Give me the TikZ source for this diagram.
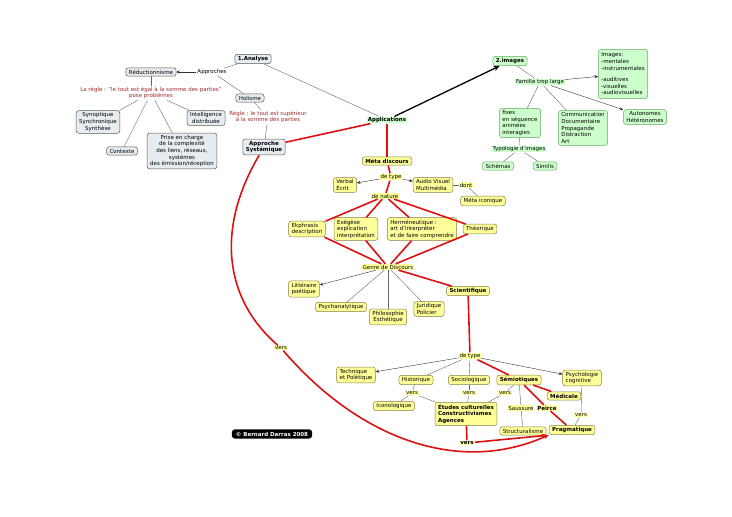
\documentclass[tikz,border=0pt]{standalone}
\usepackage{fontspec}
\setmainfont{DejaVu Sans}
\usepackage{xcolor}
\usetikzlibrary{arrows.meta}

\definecolor{boxgris}{HTML}{E6ECF0}
\definecolor{boxvert}{HTML}{CCFFCC}
\definecolor{boxjaune}{HTML}{FFFF99}
\definecolor{rougelien}{HTML}{DD1111}
\definecolor{regle}{HTML}{A02828}

\begin{document}
\begin{tikzpicture}[
        x=1pt, y=-1pt,
        >=Stealth,
        every node/.style={font=\fontsize{5.5}{6.6}\selectfont, align=center},
        gras/.style={font=\fontsize{5.5}{6.6}\selectfont\bfseries},
        gbox/.style={
            draw=black!65,
            rounded corners=2.5pt,
            line width=0.5pt,
            fill=boxgris,
            inner xsep=3pt,
            inner ysep=2pt
        },
        vbox/.style={gbox, fill=boxvert, draw=black!55!green!60},
        jbox/.style={gbox, fill=boxjaune, draw=black!55!yellow},
        lien/.style={fill=white, inner sep=1pt},
        lienj/.style={fill=boxjaune, inner sep=0.8pt},
        lienv/.style={fill=boxvert, inner sep=0.8pt},
        rtxt/.style={text=regle, inner sep=1pt},
        fin/.style={draw=black!60, line width=0.4pt},
        fleche/.style={fin, -{Stealth[length=3.5pt,width=3pt]}, draw=black!80},
        fort/.style={draw=rougelien, line width=1.6pt},
        fortfleche/.style={fort, -{Stealth[length=5pt,width=4.5pt]}},
        noir/.style={draw=black, line width=1.3pt, -{Stealth[length=6pt,width=5pt]}}
    ]
        \useasboundingbox (0,0) rectangle (732,517);

        % analyse
        \node[gbox, gras] (ana) at (253,59) {1.Analyse};
        \node[lien] (appr) at (212,72) {Approches};
        \node[gbox] (reduc) at (151,72) {Réductionnisme};
        \node[gbox] (holi) at (250,98) {Holisme};
        \node[rtxt] (regle1) at (151,93) {La règle : "le tout est égal à la somme des parties"\\pose problèmes};
        \node[rtxt] (regle2) at (268,117) {Règle : le tout est supérieur\\à la somme des parties};
        \node[gbox] (synop) at (98,122) {Synoptique\\Synchronique\\Synthèse};
        \node[gbox] (ctx) at (122,151) {Contexte};
        \node[gbox] (prise) at (182,151) {Prise en charge\\de la complexité\\des liens, réseaux,\\systèmes\\des émission/réception};
        \node[gbox] (intel) at (206,118) {Intelligence\\distribuée};
        \node[gbox, gras] (systemique) at (264,147) {Approche\\Systémique};
        \node[lienv, gras] (appli) at (387,120) {Applications};

        \draw[fin] (ana) -- (appr);
        \draw[fleche] (appr) -- (reduc);
        \draw[fin] (appr) -- (holi);
        \draw[fin] (ana) -- (appli);
        \draw[fin] (reduc) -- (regle1);
        \draw[fin] (regle1) -- (synop);
        \draw[fin] (regle1) -- (ctx);
        \draw[fin] (regle1) -- (prise);
        \draw[fin] (regle1) -- (intel);
        \draw[fin] (holi) -- (regle2);
        \draw[fin] (regle2) -- (systemique);

        % images
        \node[vbox, gras] (images2) at (510,61) {2.images};
        \node[lienv] (famille) at (540,82) {Famille trop large};
        \node[vbox, align=left, inner ysep=3.5pt] (imgbox) at (623,74) {Images:\\-mentales\\-instrumentales\\[5pt]-auditives\\-visuelles\\-audiovisuelles};
        \node[vbox] (auto) at (645,117) {Autonomes\\Hétéronomes};
        \node[vbox, align=left] (fixes) at (520,123) {fixes\\en séquence\\animées\\interagies};
        \node[vbox, align=left] (commu) at (583,128) {Communication\\Documentaire\\Propagande\\Distraction\\Art};
        \node[lienv] (typo) at (519,149) {Typologie d'images};
        \node[vbox] (schemas) at (498,166) {Schémas};
        \node[vbox] (similis) at (545,166) {Similis};

        \draw[noir] (appli) -- (images2);
        \draw[fin] (images2) -- (famille);
        \draw[fleche] (famille) -- (imgbox);
        \draw[fleche] (famille) -- (auto);
        \draw[fin] (famille) -- (fixes);
        \draw[fin] (famille) -- (commu);
        \draw[fin] (fixes) -- (typo);
        \draw[fin] (typo) -- (schemas);
        \draw[fin] (typo) -- (similis);

        % meta discours
        \node[jbox, gras] (meta) at (387,161) {Méta discours};
        \node[lienj] (detype1) at (391,177) {de type};
        \node[jbox, align=left] (verbal) at (345,185) {Verbal\\Écrit};
        \node[jbox, align=left] (audio) at (433,185) {Audio Visuel\\Multimédia};
        \node[lienj] (dont) at (466,185) {dont};
        \node[jbox] (metaico) at (483,201) {Méta iconique};
        \node[lienj] (denature) at (385,196) {de nature};
        \node[jbox, align=left] (ekph) at (307,229) {Ekphrasis\\description};
        \node[jbox, align=left] (exeg) at (356,229) {Exégèse\\explication\\interprétation};
        \node[jbox, align=left] (herm) at (422,229) {Herméneutique :\\art d'interpréter\\et de faire comprendre};
        \node[jbox] (theo) at (480,229) {Théorique};
        \node[lienj] (genre) at (388,267) {Genre de Discours};
        \node[jbox, align=left] (litt) at (304,289) {Littéraire\\poétique};
        \node[jbox] (psycha) at (341,307) {Psychanalytique};
        \node[jbox] (philo) at (388,317) {Philosophie\\Esthétique};
        \node[jbox, align=left] (jurid) at (429,309) {Juridique\\Policier};
        \node[jbox, gras] (scient) at (468,291) {Scientifique};

        \draw[fort] (appli) -- (systemique);
        \draw[fort] (appli) -- (meta);
        \draw[fort] (meta) -- (detype1);
        \draw[fleche] (detype1) -- (verbal);
        \draw[fleche] (detype1) -- (audio);
        \draw[fin] (audio) -- (dont);
        \draw[fin] (dont) -- (metaico);
        \draw[fort] (detype1) -- (denature);
        \foreach \n in {ekph,exeg,herm,theo} {
            \draw[fort] (denature) -- (\n);
            \draw[fort] (\n) -- (genre);
        }
        \draw[fleche] (genre) -- (litt);
        \draw[fin] (genre) -- (psycha);
        \draw[fin] (genre) -- (philo);
        \draw[fin] (genre) -- (jurid);
        \draw[fort] (genre) -- (scient);

        % scientifique
        \node[lienj] (detype2) at (470,356) {de type};
        \node[jbox, align=left] (techn) at (356,375) {Technique\\et Poïétique};
        \node[jbox] (histo) at (416,380) {Historique};
        \node[jbox] (socio) at (469,380) {Sociologique};
        \node[jbox, gras] (semio) at (519,380) {Sémiotiques};
        \node[jbox, align=left] (psycho) at (582,378) {Psychologie\\cognitive};
        \node[lienj] (vers1) at (412,393) {vers};
        \node[jbox] (icono) at (394,406) {Iconologique};
        \node[lienj] (vers2) at (469,393) {vers};
        \node[lienj] (vers3) at (505,393) {vers};
        \node[jbox, gras, align=left] (etudes) at (466,414) {Études culturelles\\Constructivismes\\Agences};
        \node[lienj] (saussure) at (521,408) {Saussure};
        \node[lienj, gras] (peirce) at (547,408) {Peirce};
        \node[jbox] (struct) at (523,431) {Structuralisme};
        \node[jbox, gras] (medic) at (564,396) {Médicale};
        \node[jbox, gras] (prag) at (572,430) {Pragmatique};
        \node[lienj] (vers4) at (581,415) {vers};
        \node[lienj, gras] (vers5) at (467,443) {vers};
        \node[lienj] (vers6) at (281,348) {vers};

        \draw[fort] (scient) -- (detype2);
        \draw[fleche] (detype2) -- (techn);
        \draw[fin] (detype2) -- (histo);
        \draw[fin] (detype2) -- (socio);
        \draw[fort] (detype2) -- (semio);
        \draw[fleche] (detype2) -- (psycho);
        \draw[fin] (histo) -- (vers1);
        \draw[fin] (vers1) -- (icono);
        \draw[fin] (vers1) -- (etudes);
        \draw[fin] (socio) -- (vers2);
        \draw[fin] (vers2) -- (etudes);
        \draw[fin] (semio) -- (vers3);
        \draw[fin] (vers3) -- (etudes);
        \draw[fin] (semio) -- (saussure);
        \draw[fin] (saussure) -- (struct);
        \draw[fort] (semio) -- (medic);
        \draw[fort] (semio) -- (peirce);
        \draw[fort] (peirce) -- (prag);
        \draw[fin] (psycho) -- (vers4);
        \draw[fin] (vers4) -- (prag);
        \draw[fort] (etudes) -- (vers5);
        \draw[fortfleche] (vers5) -- (struct.south east);
        \draw[fort] (systemique) .. controls (215,230) and (225,300) .. (vers6);
        \draw[fortfleche] (vers6) .. controls (360,440) and (460,475) .. (prag.south west);

        \node[fill=black, text=white, rounded corners=3pt, gras, inner xsep=4pt, inner ysep=2.5pt] (copy) at (272,434) {© Bernard Darras 2008};
    \end{tikzpicture}
\end{document}
